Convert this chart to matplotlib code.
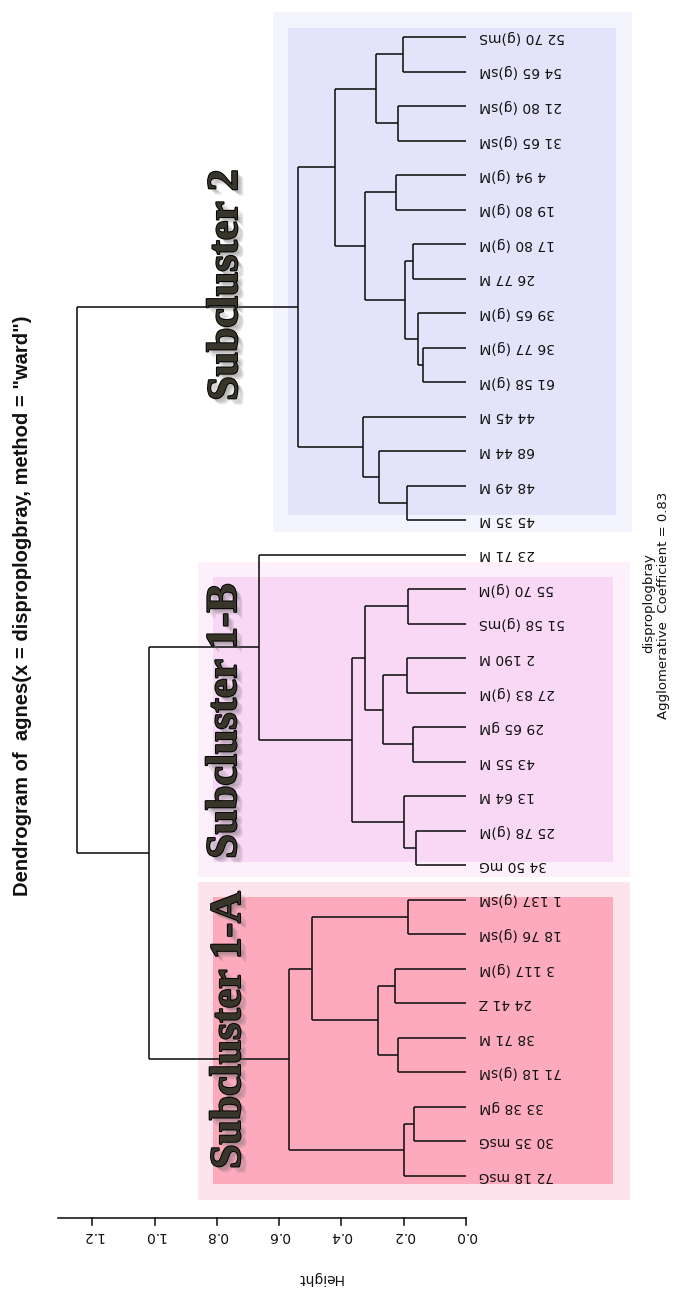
import matplotlib
matplotlib.use("Agg")
import matplotlib.pyplot as plt
import matplotlib.patches as mpatches
import matplotlib.patheffects as pe

# ---------------- data ----------------
leaf_labels = [
    "52 70 (g)mS", "54 65 (g)sM", "21 80 (g)sM", "31 65 (g)sM", "4 94 (g)M",
    "19 80 (g)M", "17 80 (g)M", "26 77 M", "39 65 (g)M", "36 77 (g)M",
    "61 58 (g)M", "44 45 M", "68 44 M", "48 49 M", "45 35 M",
    "23 71 M", "55 70 (g)M", "51 58 (g)mS", "2 190 M", "27 83 (g)M",
    "29 65 gM", "43 55 M", "13 64 M", "25 78 (g)M", "34 50 mG",
    "1 137 (g)sM", "18 76 (g)sM", "3 117 (g)M", "24 41 Z", "38 71 M",
    "71 18 (g)sM", "33 38 gM", "30 35 msG", "72 18 msG",
]
# R-style merge matrix: negative = leaf (1-based, plotting order), positive = earlier merge
merge_left = [-1, -3, 1, -5, -7, -10, -9, 5, 4, 3, -14, -13, -12, 10,
              -17, -19, -21, 16, 15, -24, -23, 19, -16,
              -26, -28, -30, 25, 24, -32, 29, 28, 23, 14]
merge_right = [-2, -4, 2, -6, -8, -11, 6, 7, 8, 9, -15, 11, 12, 13,
               -18, -20, -22, 17, 18, -25, 20, 21, 22,
               -27, -29, -31, 26, 27, -33, -34, 30, 31, 32]
merge_height = [0.202, 0.218, 0.289, 0.225, 0.170, 0.138, 0.154, 0.196, 0.324, 0.420,
                0.190, 0.279, 0.330, 0.539,
                0.186, 0.190, 0.170, 0.266, 0.324, 0.160, 0.200, 0.366, 0.665,
                0.186, 0.228, 0.218, 0.283, 0.494, 0.167, 0.200, 0.568, 1.018, 1.249]
height_ticks = [0.0, 0.2, 0.4, 0.6, 0.8, 1.0, 1.2]
tick_labels = ["0.0", "0.2", "0.4", "0.6", "0.8", "1.0", "1.2"]
title = 'Dendrogram of  agnes(x = disproplogbray, method = "ward")'
sub1 = "disproplogbray"
sub2 = "Agglomerative  Coefficient = 0.83"
clusters = ["Subcluster 2", "Subcluster 1-B", "Subcluster 1-A"]

# ---------------- layout ----------------
W, H = 683, 1293
X0, XS = 466.0, 311.5      # pixel of height 0, pixels per unit height
Y0, YS = 37.0, 34.5        # pixel of leaf 1, pixels per leaf

fig = plt.figure(figsize=(W / 100, H / 100), dpi=100)
ax = fig.add_axes([0, 0, 1, 1])
ax.set_xlim(X0 / XS, (X0 - W) / XS)
ax.set_ylim(1 + (H - Y0) / YS, 1 - Y0 / YS)
ax.axis("off")


def hx(xp):
    return (X0 - xp) / XS


def ly(yp):
    return 1 + (yp - Y0) / YS


# ---------------- boxes ----------------
boxes = [
    ((273, 632, 12, 532, "#f3f4fd"), (288, 616, 28, 515, "#e3e3fa")),
    ((198, 630, 562, 877, "#fdf0fb"), (213, 613, 577, 862, "#f9d8f6")),
    ((198, 630, 882, 1200, "#fde4ec"), (213, 613, 897, 1184, "#fdaabd")),
]
for outer, inner in boxes:
    for (x0, x1, y0, y1, c) in (outer, inner):
        ax.add_patch(mpatches.Rectangle((hx(x0), ly(y0)), hx(x1) - hx(x0), ly(y1) - ly(y0),
                                        facecolor=c, edgecolor="none", zorder=1))

# ---------------- dendrogram ----------------
node_y = {}
node_h = {}


def pos(ref):
    if ref < 0:
        return float(-ref), 0.0
    return node_y[ref], node_h[ref]


lw = 1.15
for i, (a, b, h) in enumerate(zip(merge_left, merge_right, merge_height), start=1):
    ya, ha_ = pos(a)
    yb, hb = pos(b)
    ax.plot([ha_, h], [ya, ya], color="#111111", lw=lw, zorder=2, solid_capstyle="butt")
    ax.plot([hb, h], [yb, yb], color="#111111", lw=lw, zorder=2, solid_capstyle="butt")
    ax.plot([h, h], [ya, yb], color="#111111", lw=lw, zorder=2, solid_capstyle="butt")
    node_y[i] = (ya + yb) / 2
    node_h[i] = h

for i, lab in enumerate(leaf_labels, start=1):
    ax.text(hx(479), i, lab, rotation=180, ha="left", va="center",
            fontsize=10, family="DejaVu Sans", color="#111111", zorder=4)

# ---------------- axis ----------------
ya = ly(1218)
ax.plot([hx(58), 0.0], [ya, ya], color="#111111", lw=1.15, zorder=2)
for t, tl in zip(height_ticks, tick_labels):
    ax.plot([t, t], [ya, ly(1225)], color="#111111", lw=1.15, zorder=2)
    ax.text(t, ly(1236), tl, rotation=180, ha="center", va="center",
            fontsize=10, family="DejaVu Sans", color="#111111")
ax.text(hx(320), ly(1278), "Height", rotation=180, ha="center", va="center",
        fontsize=10, family="DejaVu Sans", color="#111111")

# ---------------- titles ----------------
ax.text(hx(23), ly(606), title, rotation=90, ha="center", va="center",
        fontsize=14.5, family="Liberation Sans", weight="bold", color="#111111")
ax.text(hx(649), ly(603), sub1, rotation=90, ha="center", va="center",
        fontsize=9.5, family="DejaVu Sans", color="#111111")
ax.text(hx(663), ly(605), sub2, rotation=90, ha="center", va="center",
        fontsize=9.5, family="DejaVu Sans", color="#111111")

# ---------------- subcluster labels ----------------
cl_pos = [(226, 285), (225, 721), (229, 1030)]
effects = [pe.SimplePatchShadow(offset=(o, -o), shadow_rgbFace="#666666", alpha=0.16)
           for o in (1.5, 2.5, 3.5, 4.5)]
effects += [pe.Stroke(linewidth=1.4, foreground="#000000"), pe.Normal()]
for name, (xp, yp) in zip(clusters, cl_pos):
    ax.text(hx(xp), ly(yp), name, rotation=90, ha="center", va="center",
            fontsize=31.5, family="Liberation Serif", weight="bold",
            color="#38352a", zorder=5, path_effects=effects)

fig.savefig("out.png", dpi=100, facecolor="white")
